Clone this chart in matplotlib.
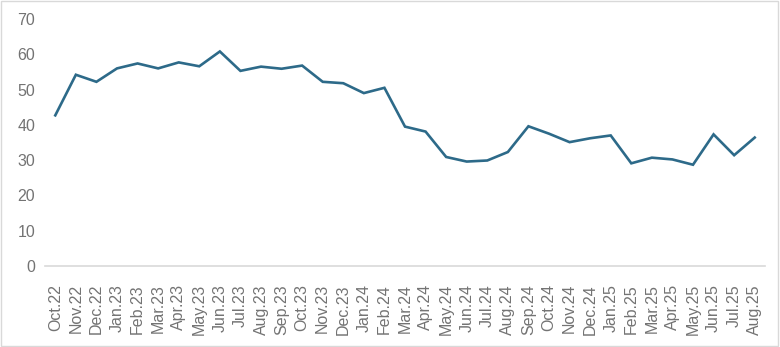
import matplotlib
matplotlib.use('Agg')
import matplotlib.pyplot as plt
from matplotlib.patches import Rectangle

plt.rcParams['font.family'] = ['Liberation Sans', 'DejaVu Sans']

months = ['Oct.22', 'Nov.22', 'Dec.22', 'Jan.23', 'Feb.23', 'Mar.23', 'Apr.23', 'May.23',
          'Jun.23', 'Jul.23', 'Aug.23', 'Sep.23', 'Oct.23', 'Nov.23', 'Dec.23', 'Jan.24',
          'Feb.24', 'Mar.24', 'Apr.24', 'May.24', 'Jun.24', 'Jul.24', 'Aug.24', 'Sep.24',
          'Oct.24', 'Nov.24', 'Dec.24', 'Jan.25', 'Feb.25', 'Mar.25', 'Apr.25', 'May.25',
          'Jun.25', 'Jul.25', 'Aug.25']
values = [42.7, 54.2, 52.2, 56.0, 57.4, 56.0, 57.7, 56.6,
          60.8, 55.3, 56.5, 55.9, 56.8, 52.2, 51.8, 49.0,
          50.5, 39.5, 38.1, 30.9, 29.6, 29.9, 32.3, 39.6,
          37.5, 35.1, 36.2, 37.0, 29.1, 30.7, 30.2, 28.7,
          37.3, 31.4, 36.4]
y_ticks = [0, 10, 20, 30, 40, 50, 60, 70]

fig = plt.figure(figsize=(7.8, 3.47), dpi=100)
ax = fig.add_axes([45 / 780, 1 - 266 / 347, 720 / 780, 247 / 347])

x = list(range(len(months)))
ax.plot(x, values, color='#2D6A89', linewidth=1.9, solid_joinstyle='miter')

ax.set_xlim(-0.5, len(months) - 0.5)
ax.set_ylim(0, 70)
ax.set_yticks(y_ticks)
ax.set_xticks(x)
ax.set_xticklabels(months, rotation=90)
ax.tick_params(axis='both', length=0, labelsize=11.5, labelcolor='#737373')
ax.tick_params(axis='y', pad=7)
ax.tick_params(axis='x', pad=13)

for side in ['top', 'right', 'left']:
    ax.spines[side].set_visible(False)
ax.spines['bottom'].set_color('#D9D9D9')
ax.spines['bottom'].set_linewidth(1.2)

# thin frame around the whole figure
fig.patches.append(Rectangle((0.001, 0.002), 0.997, 0.995, transform=fig.transFigure,
                             fill=False, edgecolor='#D9D9D9', linewidth=1))

fig.savefig('out.png', dpi=100, facecolor='white')
